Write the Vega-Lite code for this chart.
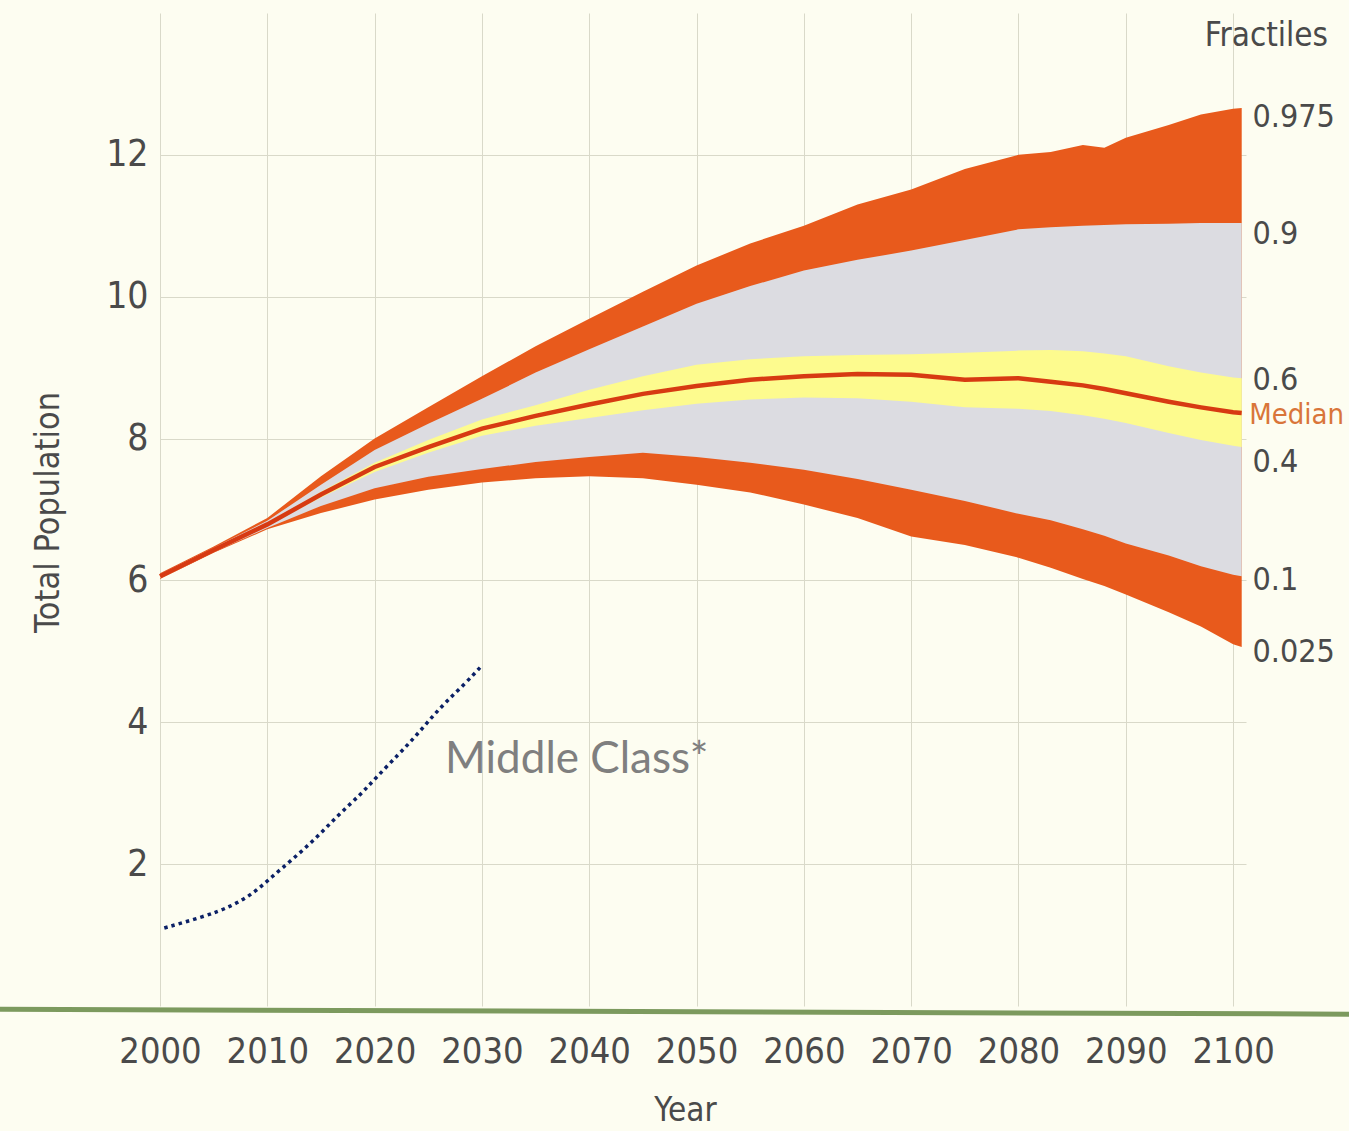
{
  "$schema": "https://vega.github.io/schema/vega-lite/v6.json",
  "autosize": {"type": "none"},
  "width": 1086,
  "height": 993,
  "padding": {"left": 160, "top": 13, "right": 103, "bottom": 125},
  "background": "#fdfdf1",
  "config": {
    "view": {"stroke": null},
    "font": "DejaVu Sans Condensed"
  },
  "datasets": {
    "fractiles": [
      {"year": 2000, "q025": 6.02, "q10": 6.03, "q40": 6.04, "q50": 6.06, "q60": 6.08, "q90": 6.09, "q975": 6.10},
      {"year": 2005, "q025": 6.39, "q10": 6.40, "q40": 6.42, "q50": 6.43, "q60": 6.44, "q90": 6.46, "q975": 6.48},
      {"year": 2010, "q025": 6.72, "q10": 6.74, "q40": 6.77, "q50": 6.79, "q60": 6.81, "q90": 6.84, "q975": 6.88},
      {"year": 2015, "q025": 6.95, "q10": 7.05, "q40": 7.17, "q50": 7.21, "q60": 7.25, "q90": 7.35, "q975": 7.47},
      {"year": 2020, "q025": 7.14, "q10": 7.30, "q40": 7.53, "q50": 7.60, "q60": 7.66, "q90": 7.84, "q975": 8.00},
      {"year": 2025, "q025": 7.28, "q10": 7.46, "q40": 7.80, "q50": 7.88, "q60": 7.98, "q90": 8.21, "q975": 8.44},
      {"year": 2030, "q025": 7.38, "q10": 7.57, "q40": 8.04, "q50": 8.14, "q60": 8.27, "q90": 8.56, "q975": 8.88},
      {"year": 2035, "q025": 7.44, "q10": 7.67, "q40": 8.18, "q50": 8.32, "q60": 8.47, "q90": 8.93, "q975": 9.30},
      {"year": 2040, "q025": 7.47, "q10": 7.74, "q40": 8.29, "q50": 8.48, "q60": 8.69, "q90": 9.26, "q975": 9.69},
      {"year": 2045, "q025": 7.44, "q10": 7.80, "q40": 8.40, "q50": 8.63, "q60": 8.88, "q90": 9.58, "q975": 10.07},
      {"year": 2050, "q025": 7.35, "q10": 7.74, "q40": 8.49, "q50": 8.74, "q60": 9.04, "q90": 9.90, "q975": 10.44},
      {"year": 2055, "q025": 7.24, "q10": 7.66, "q40": 8.55, "q50": 8.83, "q60": 9.12, "q90": 10.15, "q975": 10.75},
      {"year": 2060, "q025": 7.07, "q10": 7.56, "q40": 8.58, "q50": 8.88, "q60": 9.16, "q90": 10.37, "q975": 11.00},
      {"year": 2065, "q025": 6.88, "q10": 7.43, "q40": 8.57, "q50": 8.91, "q60": 9.18, "q90": 10.52, "q975": 11.30},
      {"year": 2070, "q025": 6.62, "q10": 7.28, "q40": 8.52, "q50": 8.90, "q60": 9.19, "q90": 10.65, "q975": 11.51},
      {"year": 2075, "q025": 6.50, "q10": 7.12, "q40": 8.44, "q50": 8.83, "q60": 9.21, "q90": 10.80, "q975": 11.80},
      {"year": 2080, "q025": 6.32, "q10": 6.94, "q40": 8.42, "q50": 8.85, "q60": 9.24, "q90": 10.95, "q975": 12.00},
      {"year": 2083, "q025": 6.18, "q10": 6.85, "q40": 8.39, "q50": 8.80, "q60": 9.25, "q90": 10.98, "q975": 12.04},
      {"year": 2086, "q025": 6.02, "q10": 6.72, "q40": 8.33, "q50": 8.75, "q60": 9.23, "q90": 11.00, "q975": 12.14},
      {"year": 2088, "q025": 5.92, "q10": 6.63, "q40": 8.28, "q50": 8.70, "q60": 9.20, "q90": 11.01, "q975": 12.10},
      {"year": 2090, "q025": 5.80, "q10": 6.52, "q40": 8.22, "q50": 8.64, "q60": 9.16, "q90": 11.02, "q975": 12.24},
      {"year": 2094, "q025": 5.55, "q10": 6.35, "q40": 8.08, "q50": 8.52, "q60": 9.02, "q90": 11.03, "q975": 12.42},
      {"year": 2097, "q025": 5.35, "q10": 6.20, "q40": 7.98, "q50": 8.44, "q60": 8.93, "q90": 11.04, "q975": 12.57},
      {"year": 2100, "q025": 5.10, "q10": 6.08, "q40": 7.90, "q50": 8.37, "q60": 8.86, "q90": 11.04, "q975": 12.65},
      {"year": 2100.8, "q025": 5.06, "q10": 6.06, "q40": 7.88, "q50": 8.36, "q60": 8.85, "q90": 11.04, "q975": 12.66}
    ],
    "middle": [
      {"year": 2000.4, "v": 1.10},
      {"year": 2004.1, "v": 1.26},
      {"year": 2006.6, "v": 1.40},
      {"year": 2008.75, "v": 1.59},
      {"year": 2010.4, "v": 1.82},
      {"year": 2012.3, "v": 2.06},
      {"year": 2014.5, "v": 2.36},
      {"year": 2016.6, "v": 2.69},
      {"year": 2018.75, "v": 2.99},
      {"year": 2020.2, "v": 3.23},
      {"year": 2022.3, "v": 3.56},
      {"year": 2023.75, "v": 3.79},
      {"year": 2025.2, "v": 4.05},
      {"year": 2026.6, "v": 4.28},
      {"year": 2028.4, "v": 4.54},
      {"year": 2030.0, "v": 4.80}
    ],
    "labels": [
      {"t": "0.975", "year": 2101.8, "v": 12.53},
      {"t": "0.9", "year": 2101.8, "v": 10.89},
      {"t": "0.6", "year": 2101.8, "v": 8.83},
      {"t": "0.4", "year": 2101.8, "v": 7.67},
      {"t": "0.1", "year": 2101.8, "v": 6.01},
      {"t": "0.025", "year": 2101.8, "v": 4.99}
    ]
  },
  "layer": [
    {
      "data": {"name": "fractiles"},
      "mark": {"type": "area", "color": "#e85a1c", "opacity": 1},
      "encoding": {
        "x": {
          "field": "year", "type": "quantitative",
          "scale": {"domain": [2000, 2101.2], "nice": false, "zero": false},
          "axis": {
            "values": [2000, 2010, 2020, 2030, 2040, 2050, 2060, 2070, 2080, 2090, 2100],
            "format": "d",
            "labelOverlap": false,
            "labelFlush": false,
            "title": "Year",
            "grid": true,
            "gridColor": "#d9d9c9",
            "gridWidth": 1,
            "domain": false,
            "ticks": false,
            "labelFontSize": 36,
            "labelColor": "#4a4a4a",
            "labelPadding": 28,
            "labelFont": "DejaVu Sans Condensed",
            "titleFont": "DejaVu Sans Condensed",
            "titleFontSize": 33,
            "titleFontWeight": "normal",
            "titleColor": "#4a4a4a",
            "titleX": 525,
            "titleY": 104,
            "titleBaseline": "middle",
            "titleAlign": "center"
          }
        },
        "y": {
          "field": "q025", "type": "quantitative",
          "scale": {"domain": [0, 14], "nice": false},
          "axis": {
            "values": [2, 4, 6, 8, 10, 12],
            "format": "d",
            "title": "Total Population",
            "grid": true,
            "gridColor": "#d9d9c9",
            "gridWidth": 1,
            "domain": false,
            "ticks": false,
            "labelFontSize": 37,
            "labelColor": "#4a4a4a",
            "labelPadding": 12,
            "labelFont": "DejaVu Sans Condensed",
            "titleFont": "DejaVu Sans Condensed",
            "titleFontSize": 34,
            "titleFontWeight": "normal",
            "titleColor": "#4a4a4a",
            "titleAngle": -90,
            "titleX": -112,
            "titleY": 499,
            "titleBaseline": "middle",
            "titleAlign": "center"
          }
        },
        "y2": {"field": "q975"}
      }
    },
    {
      "data": {"name": "fractiles"},
      "mark": {"type": "area", "color": "#dcdce1", "opacity": 1},
      "encoding": {
        "x": {"field": "year", "type": "quantitative"},
        "y": {"field": "q10", "type": "quantitative"},
        "y2": {"field": "q90"}
      }
    },
    {
      "data": {"name": "fractiles"},
      "mark": {"type": "area", "color": "#fdfb8e", "opacity": 1},
      "encoding": {
        "x": {"field": "year", "type": "quantitative"},
        "y": {"field": "q40", "type": "quantitative"},
        "y2": {"field": "q60"}
      }
    },
    {
      "data": {"name": "fractiles"},
      "mark": {"type": "line", "color": "#d73a12", "strokeWidth": 4.5},
      "encoding": {
        "x": {"field": "year", "type": "quantitative"},
        "y": {"field": "q50", "type": "quantitative"}
      }
    },
    {
      "data": {"name": "middle"},
      "mark": {"type": "line", "color": "#0b2066", "strokeWidth": 3.5, "strokeDash": [3.5, 4], "strokeCap": "butt", "interpolate": "basis"},
      "encoding": {
        "x": {"field": "year", "type": "quantitative"},
        "y": {"field": "v", "type": "quantitative"}
      }
    },
    {
      "data": {"values": [{"x1": 1985.0, "x2": 2110.9, "y1": -0.045, "y2": -0.115}]},
      "mark": {"type": "rule", "color": "#7c9a5e", "strokeWidth": 5},
      "encoding": {
        "x": {"field": "x1", "type": "quantitative"},
        "x2": {"field": "x2"},
        "y": {"field": "y1", "type": "quantitative"},
        "y2": {"field": "y2"}
      }
    },
    {
      "data": {"name": "labels"},
      "mark": {"type": "text", "align": "left", "baseline": "middle", "fontSize": 32, "color": "#4a4a4a", "font": "DejaVu Sans Condensed"},
      "encoding": {
        "x": {"field": "year", "type": "quantitative"},
        "y": {"field": "v", "type": "quantitative"},
        "text": {"field": "t"}
      }
    },
    {
      "data": {"values": [{"t": "Median", "year": 2101.5, "v": 8.33}]},
      "mark": {"type": "text", "align": "left", "baseline": "middle", "fontSize": 29, "color": "#d9753a", "font": "DejaVu Sans Condensed"},
      "encoding": {
        "x": {"field": "year", "type": "quantitative"},
        "y": {"field": "v", "type": "quantitative"},
        "text": {"field": "t"}
      }
    },
    {
      "data": {"values": [{"t": "Fractiles", "year": 2108.85, "v": 13.67}]},
      "mark": {"type": "text", "align": "right", "baseline": "middle", "fontSize": 33, "color": "#4a4a4a", "font": "DejaVu Sans Condensed"},
      "encoding": {
        "x": {"field": "year", "type": "quantitative"},
        "y": {"field": "v", "type": "quantitative"},
        "text": {"field": "t"}
      }
    },
    {
      "data": {"values": [{"t": "Middle Class*", "year": 2026.56, "v": 3.47}]},
      "mark": {"type": "text", "align": "left", "baseline": "middle", "fontSize": 44, "color": "#7f7f7f", "font": "Lato"},
      "encoding": {
        "x": {"field": "year", "type": "quantitative"},
        "y": {"field": "v", "type": "quantitative"},
        "text": {"field": "t"}
      }
    }
  ]
}
